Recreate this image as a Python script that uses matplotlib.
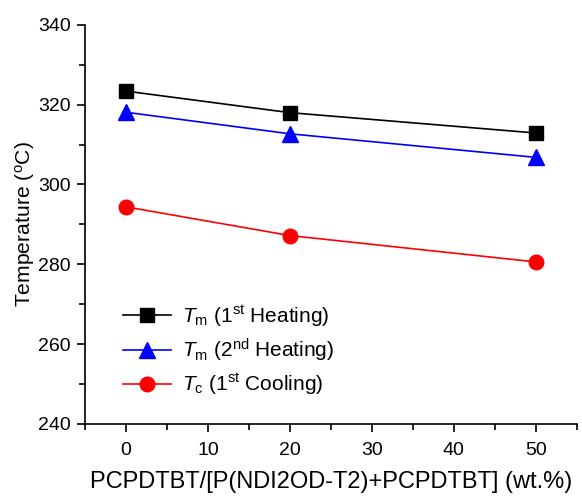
import matplotlib
matplotlib.use("Agg")
import matplotlib.pyplot as plt
from matplotlib.ticker import MultipleLocator

plt.rcParams['font.family'] = ['Liberation Sans', 'DejaVu Sans']
plt.rcParams['mathtext.fontset'] = 'custom'
plt.rcParams['mathtext.rm'] = 'Liberation Sans'
plt.rcParams['mathtext.it'] = 'Liberation Sans:italic'
plt.rcParams['mathtext.bf'] = 'Liberation Sans:bold'

x = [0, 20, 50]
tm1 = [323.4, 318.0, 312.9]
tm2 = [318.1, 312.7, 306.8]
tc = [294.4, 287.2, 280.6]

labels = [r'$T_\mathrm{m}$ (1$^\mathrm{st}$ Heating)',
          r'$T_\mathrm{m}$ (2$^\mathrm{nd}$ Heating)',
          r'$T_\mathrm{c}$ (1$^\mathrm{st}$ Cooling)']

fig = plt.figure(figsize=(5.82, 4.97), dpi=100)
ax = fig.add_axes([0.146, 0.147, 0.845, 0.803])

ax.plot(x, tm1, color='black', marker='s', markersize=9.5, lw=1.2, label=labels[0])
ax.plot(x, tm2, color='blue', marker='^', markersize=12, lw=1.2, label=labels[1])
ax.plot(x, tc, color='red', marker='o', markersize=10.5, lw=1.2, label=labels[2])

ax.set_xlim(-5, 55)
ax.set_ylim(240, 340)
ax.xaxis.set_major_locator(MultipleLocator(10))
ax.xaxis.set_minor_locator(MultipleLocator(5))
ax.yaxis.set_major_locator(MultipleLocator(20))
ax.yaxis.set_minor_locator(MultipleLocator(10))
for s in ['top', 'right']:
    ax.spines[s].set_visible(False)
for s in ['left', 'bottom']:
    ax.spines[s].set_linewidth(1.2)
ax.tick_params(which='major', direction='out', length=6, width=1.2, labelsize=14)
ax.tick_params(which='minor', direction='out', length=4, width=1.2)
ax.tick_params(axis='x', which='major', pad=7)
ax.tick_params(axis='y', which='major', pad=4)

ax.set_xlabel('PCPDTBT/[P(NDI2OD-T2)+PCPDTBT] (wt.%)', fontsize=17, labelpad=9)
ax.set_ylabel('Temperature ($^\\mathrm{o}$C)', fontsize=15.2, labelpad=1)

ax.legend(loc='lower left', bbox_to_anchor=(0.04, 0.02), frameon=False, fontsize=15,
          handlelength=2.3, labelspacing=0.38, handletextpad=0.5)

fig.savefig('out.png', dpi=100)
